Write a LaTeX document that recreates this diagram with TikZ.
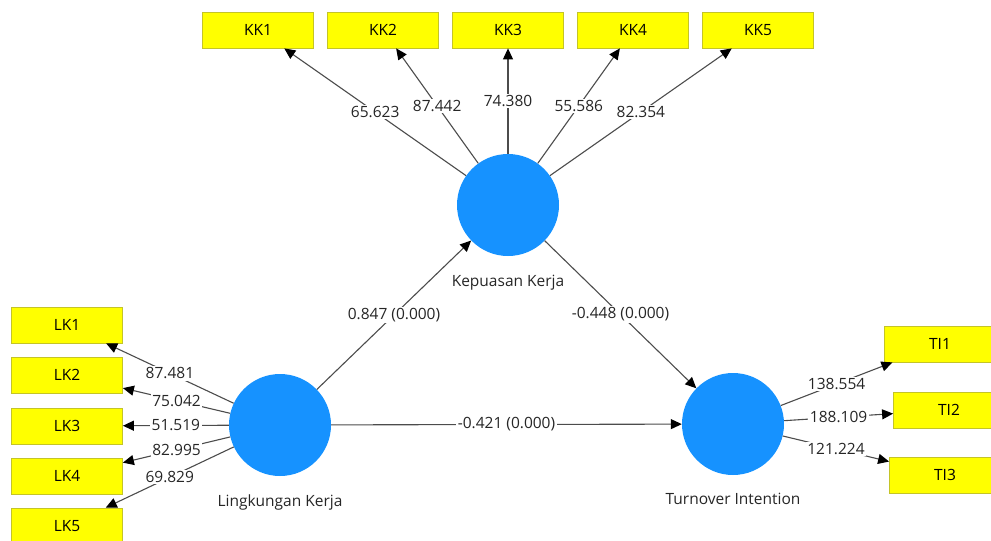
\documentclass[tikz,border=0pt]{standalone}
\usepackage{fontspec}
\setmainfont{Open Sans}
\usetikzlibrary{arrows.meta, positioning}

\definecolor{latentblue}{RGB}{22,146,255}
\definecolor{itemyellow}{RGB}{255,255,0}
\definecolor{itemborder}{RGB}{196,196,40}

\begin{document}
\begin{tikzpicture}[x=1pt, y=-1pt,
  font=\fontsize{15.5}{18}\selectfont,
  latent/.style={circle, fill=latentblue, minimum size=102pt, inner sep=0pt},
  item/.style={rectangle, draw=itemborder, line width=0.8pt, fill=itemyellow,
    minimum width=111pt, minimum height=36pt, inner sep=0pt},
  weight/.style={fill=white, inner sep=1.5pt, text=black!85}]

\tikzset{plspath/.style={draw=black!70, line width=1.1pt,
     -{Triangle[length=11pt, width=10pt, color=black]}}}

  \useasboundingbox (0,0) rectangle (991,541);

  % latent variables
  \node[latent] (KepK) at (508,205) {};
  \node[latent] (LingK) at (280,425) {};
  \node[latent] (TurnI) at (733,424) {};
  \node[below=15pt of KepK, text=black!85] (KepKname) {Kepuasan Kerja};
  \node[below=15pt of LingK, text=black!85] (LingKname) {Lingkungan Kerja};
  \node[below=14pt of TurnI, text=black!85] (TurnIname) {Turnover Intention};

  % indicators
  \node[item] (KK1) at (258,30) {KK1};
  \node[item] (KK2) at (383,30) {KK2};
  \node[item] (KK3) at (508,30) {KK3};
  \node[item] (KK4) at (633,30) {KK4};
  \node[item] (KK5) at (758,30) {KK5};

  \node[item] (LK1) at (67,325) {LK1};
  \node[item] (LK2) at (67,375) {LK2};
  \node[item] (LK3) at (67,426) {LK3};
  \node[item] (LK4) at (67,476) {LK4};
  \node[item] (LK5) at (67,526) {LK5};

  \node[item] (TI1) at (940,344) {TI1};
  \node[item] (TI2) at (949,410) {TI2};
  \node[item] (TI3) at (945,475) {TI3};

  % outer loadings
  \draw[plspath] (KepK) -- node[weight] {65.623} (KK1);
  \draw[plspath] (KepK) -- node[weight] {87.442} (KK2);
  \draw[plspath] (KepK) -- node[weight] {74.380} (KK3);
  \draw[plspath] (KepK) -- node[weight] {55.586} (KK4);
  \draw[plspath] (KepK) -- node[weight] {82.354} (KK5);

  \draw[plspath] (LingK) -- node[weight] {87.481} (LK1);
  \draw[plspath] (LingK) -- node[weight] {75.042} (LK2);
  \draw[plspath] (LingK) -- node[weight] {51.519} (LK3);
  \draw[plspath] (LingK) -- node[weight] {82.995} (LK4);
  \draw[plspath] (LingK) -- node[weight] {69.829} (LK5);

  \draw[plspath] (TurnI) -- node[weight] {138.554} (TI1);
  \draw[plspath] (TurnI) -- node[weight] {188.109} (TI2);
  \draw[plspath] (TurnI) -- node[weight] {121.224} (TI3);

  % inner model
  \draw[plspath] (LingK) -- node[weight] {0.847 (0.000)} (KepK);
  \draw[plspath] (KepK) -- node[weight] {-0.448 (0.000)} (TurnI);
  \draw[plspath] (LingK) -- node[weight] {-0.421 (0.000)} (TurnI);
\end{tikzpicture}
\end{document}
